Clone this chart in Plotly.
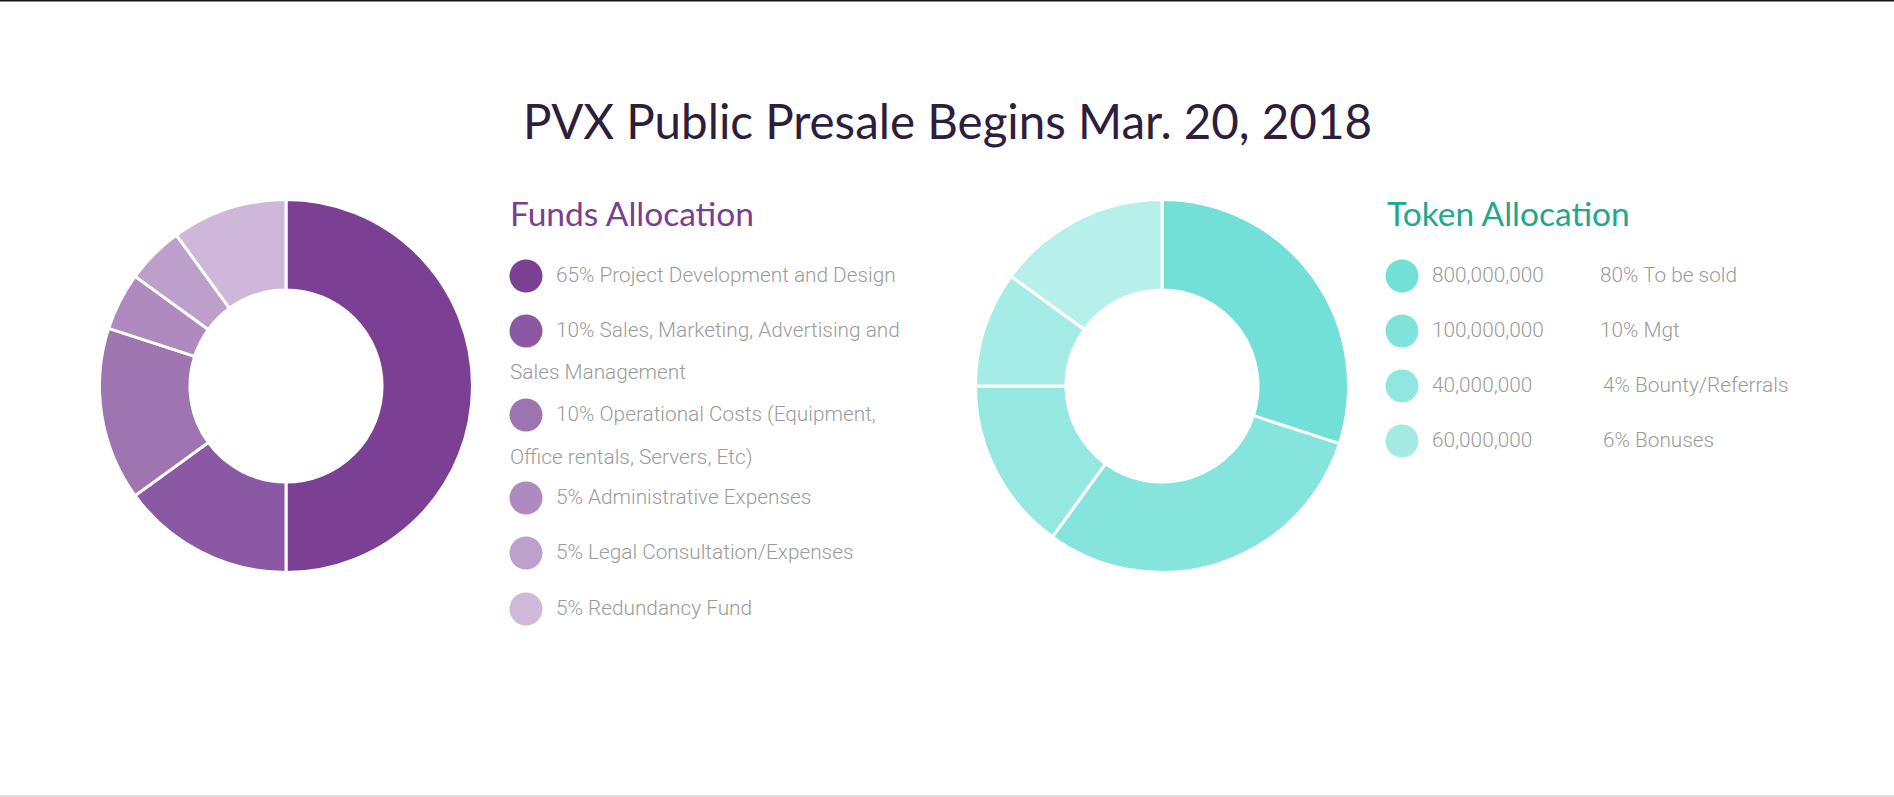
import plotly.graph_objects as go

W, H = 1894, 797

title_text = "PVX Public Presale Begins Mar. 20, 2018"

# Funds allocation donut (slice sizes as drawn)
funds_title = "Funds Allocation"
funds_values = [50, 15, 15, 5, 5, 10]
funds_colors = ["#7b3f94", "#8b59a3", "#9e75b0", "#ae8abe", "#bd9fcb", "#cfb7da"]
funds_legend_lines = [
    ["65% Project Development and Design"],
    ["10% Sales, Marketing, Advertising and", "Sales Management"],
    ["10% Operational Costs (Equipment,", "Office rentals, Servers, Etc)"],
    ["5% Administrative Expenses"],
    ["5% Legal Consultation/Expenses"],
    ["5% Redundancy Fund"],
]
funds_legend_colors = ["#7b3f94", "#8b59a3", "#9d74b0", "#ae8abf", "#bda0cb", "#d0b8da"]

# Token allocation donut (slice sizes as drawn)
token_title = "Token Allocation"
token_values = [30, 30, 15, 10, 15]
token_colors = ["#72e0d6", "#85e5dc", "#95e8e0", "#a6ece6", "#b7f0eb"]
token_amounts = ["800,000,000", "100,000,000", "40,000,000", "60,000,000"]
token_labels = ["80% To be sold", "10% Mgt", "4% Bounty/Referrals", "6% Bonuses"]
token_legend_colors = ["#72e0d6", "#80e3da", "#91e7df", "#a4ebe5"]

GREY = "#9b9b9b"
TEXT_FONT = dict(family="Roboto", size=20.8, color=GREY, weight=300)
HEAD_FONT = "Lato"
DY = -2.5  # text vertical nudge


def dom(cx, cy, r):
    return dict(x=[(cx - r) / W, (cx + r) / W], y=[(H - cy - r) / H, (H - cy + r) / H])


fig = go.Figure()

fig.add_trace(go.Pie(
    values=funds_values, sort=False, direction="clockwise", rotation=0,
    hole=0.515, textinfo="none", hoverinfo="skip", showlegend=False,
    marker=dict(colors=funds_colors, line=dict(color="white", width=3)),
    domain=dom(286, 386, 186.5),
))
fig.add_trace(go.Pie(
    values=token_values, sort=False, direction="clockwise", rotation=0,
    hole=0.515, textinfo="none", hoverinfo="skip", showlegend=False,
    marker=dict(colors=token_colors, line=dict(color="white", width=3)),
    domain=dom(1162, 386, 186.5),
))

annotations = []
shapes = []

annotations.append(dict(text=title_text, x=947, y=120.5, xref="x", yref="y",
                        xanchor="center", yanchor="middle", showarrow=False,
                        font=dict(family=HEAD_FONT, size=47.5, color="#2d1e3d")))
annotations.append(dict(text=funds_title, x=508, y=212.5, xref="x", yref="y",
                        xanchor="left", yanchor="middle", showarrow=False,
                        font=dict(family=HEAD_FONT, size=33.5, color="#7a3e92")))
annotations.append(dict(text=token_title, x=1385, y=212.5, xref="x", yref="y",
                        xanchor="left", yanchor="middle", showarrow=False,
                        font=dict(family=HEAD_FONT, size=33.5, color="#22a78e")))

# Funds legend
funds_rows = [276, 331, 415, 498, 553, 609]
wrap_rows = [None, 373, 458, None, None, None]
circ_r = 16.5
for i, lines in enumerate(funds_legend_lines):
    y = funds_rows[i]
    shapes.append(dict(type="circle", xref="x", yref="y",
                       x0=526 - circ_r, x1=526 + circ_r, y0=y - circ_r, y1=y + circ_r,
                       fillcolor=funds_legend_colors[i], line=dict(width=0)))
    annotations.append(dict(text=lines[0], x=554, y=y + 1 + DY, xref="x", yref="y",
                            xanchor="left", yanchor="middle", showarrow=False, font=TEXT_FONT))
    if len(lines) > 1:
        annotations.append(dict(text=lines[1], x=508, y=wrap_rows[i] + 1 + DY, xref="x", yref="y",
                                xanchor="left", yanchor="middle", showarrow=False, font=TEXT_FONT))

# Token legend
token_rows = [276, 331, 386, 441]
label_x = [1598, 1598, 1601, 1601]
for i in range(len(token_amounts)):
    y = token_rows[i]
    shapes.append(dict(type="circle", xref="x", yref="y",
                       x0=1402 - circ_r, x1=1402 + circ_r, y0=y - circ_r, y1=y + circ_r,
                       fillcolor=token_legend_colors[i], line=dict(width=0)))
    annotations.append(dict(text=token_amounts[i], x=1430, y=y + 1 + DY, xref="x", yref="y",
                            xanchor="left", yanchor="middle", showarrow=False, font=TEXT_FONT))
    annotations.append(dict(text=token_labels[i], x=label_x[i], y=y + 1 + DY, xref="x", yref="y",
                            xanchor="left", yanchor="middle", showarrow=False, font=TEXT_FONT))

# page border lines
shapes.append(dict(type="line", xref="x", yref="y", x0=0, x1=W, y0=0.8, y1=0.8,
                   line=dict(color="#151515", width=1.6)))
shapes.append(dict(type="line", xref="x", yref="y", x0=0, x1=W, y0=796, y1=796,
                   line=dict(color="#d4d4d4", width=1.5)))

fig.update_layout(
    width=W, height=H, margin=dict(l=0, r=0, t=0, b=0),
    paper_bgcolor="white", plot_bgcolor="rgba(0,0,0,0)",
    xaxis=dict(range=[0, W], visible=False, fixedrange=True),
    yaxis=dict(range=[H, 0], visible=False, fixedrange=True),
    annotations=annotations, shapes=shapes,
)

fig.write_html("out.html", config={"displayModeBar": False},
               post_script="document.body.style.margin='0';document.body.style.overflow='hidden';")
